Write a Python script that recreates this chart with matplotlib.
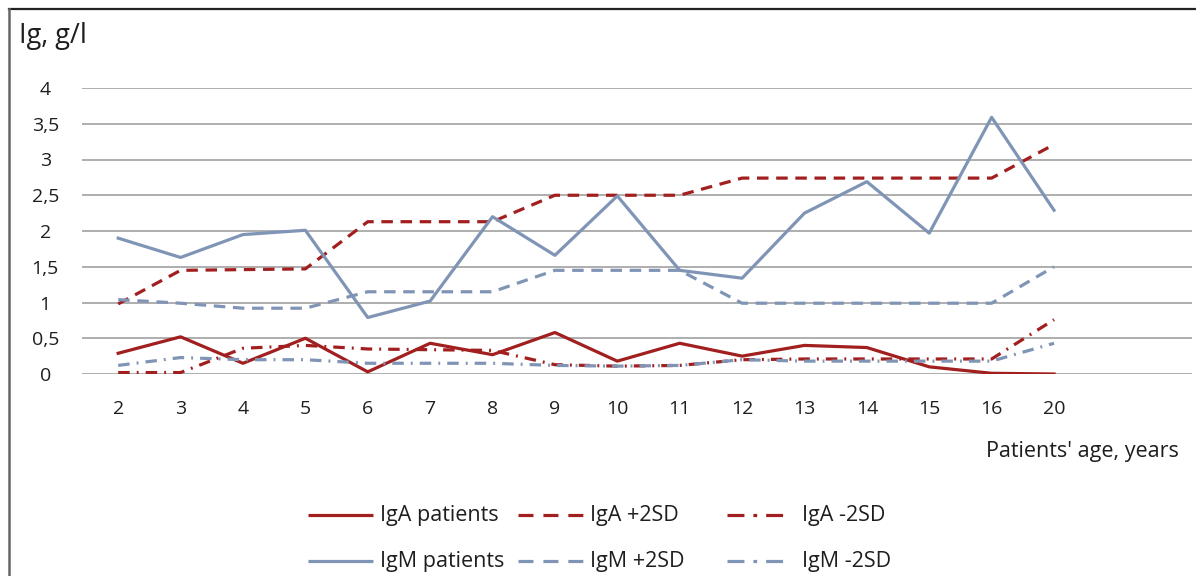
import matplotlib
matplotlib.use("Agg")
import matplotlib.pyplot as plt
from matplotlib.lines import Line2D
import numpy as np

ages = ["2", "3", "4", "5", "6", "7", "8", "9", "10", "11", "12", "13", "14", "15", "16", "20"]
iga_patients = [0.29, 0.52, 0.15, 0.50, 0.03, 0.43, 0.27, 0.58, 0.18, 0.43, 0.25, 0.40, 0.37, 0.10, 0.01, 0.00]
iga_plus2sd = [0.98, 1.45, 1.46, 1.47, 2.13, 2.13, 2.13, 2.50, 2.50, 2.50, 2.74, 2.74, 2.74, 2.74, 2.74, 3.21]
iga_minus2sd = [0.02, 0.02, 0.36, 0.40, 0.35, 0.34, 0.33, 0.13, 0.11, 0.12, 0.20, 0.21, 0.21, 0.21, 0.21, 0.76]
igm_patients = [1.90, 1.63, 1.95, 2.01, 0.79, 1.02, 2.20, 1.66, 2.49, 1.45, 1.34, 2.25, 2.69, 1.97, 3.59, 2.29]
igm_plus2sd = [1.04, 0.99, 0.92, 0.92, 1.15, 1.15, 1.15, 1.45, 1.45, 1.45, 0.99, 0.99, 0.99, 0.99, 0.99, 1.50]
igm_minus2sd = [0.12, 0.23, 0.20, 0.20, 0.15, 0.15, 0.15, 0.12, 0.11, 0.12, 0.20, 0.18, 0.18, 0.18, 0.18, 0.43]
yticks = [0, 0.5, 1, 1.5, 2, 2.5, 3, 3.5, 4]
ytick_labels = ["0", "0,5", "1", "1,5", "2", "2,5", "3", "3,5", "4"]

RED = "#A21F1F"
BLUE = "#8095B6"
GRID = "#A8A8A8"
TXT = "#1E1E1E"
FONT = ["Open Sans", "DejaVu Sans"]

W, H = 1196, 576
fig = plt.figure(figsize=(W / 100, H / 100), dpi=100)
plt.rcParams["font.family"] = FONT

left, right, bottom, top = 82, 1192, 374, 88
ax = fig.add_axes([left / W, 1 - bottom / H, (right - left) / W, (bottom - top) / H])

x = np.arange(len(ages))
lw = 2.3
dash = (3.6, 2.4)
dashdot = (3.6, 2.2, 0.6, 2.2)

series = [
    (iga_patients, RED, None, "IgA patients"),
    (iga_plus2sd, RED, dash, "IgA +2SD"),
    (iga_minus2sd, RED, dashdot, "IgA -2SD"),
    (igm_patients, BLUE, None, "IgM patients"),
    (igm_plus2sd, BLUE, dash, "IgM +2SD"),
    (igm_minus2sd, BLUE, dashdot, "IgM -2SD"),
]
for vals, col, ds, lab in series:
    if ds is None:
        ax.plot(x, vals, color=col, lw=lw, label=lab)
    else:
        ax.plot(x, vals, color=col, lw=lw, label=lab, dashes=ds)

ax.set_xlim(-0.58, (right - 118) / 62.4)
ax.set_ylim(0, 4)
ax.set_yticks(yticks)
ax.set_yticklabels(ytick_labels)
ax.set_xticks(x)
ax.set_xticklabels(ages)
ax.tick_params(axis="both", length=0, labelsize=14, colors=TXT)
ax.tick_params(axis="x", pad=19)
ax.tick_params(axis="y", pad=26.5)
for lab in ax.get_yticklabels():
    lab.set_horizontalalignment("center")
ax.grid(axis="y", color=GRID, lw=1.3)
ax.set_axisbelow(True)
for s in ax.spines.values():
    s.set_visible(False)

fig.text(19 / W, 1 - 36 / H, "Ig, g/l", fontsize=19.5, ha="left", va="center", color=TXT)
fig.text(1179 / W, 1 - 452 / H, "Patients' age, years", fontsize=15.5, ha="right", va="center", color=TXT)

# legend drawn in figure pixel coordinates (two rows, three columns)
leg_rows = [515, 561]
leg_cols = [(308, 373, 380), (518, 583, 590), (727, 783, 802)]
leg_layout = [
    ["IgA patients", "IgA +2SD", "IgA -2SD"],
    ["IgM patients", "IgM +2SD", "IgM -2SD"],
]
leg_styles = {
    "IgA patients": (RED, None), "IgA +2SD": (RED, (4.7, 3.1)), "IgA -2SD": (RED, (5.3, 2.8, 1.2, 2.8)),
    "IgM patients": (BLUE, None), "IgM +2SD": (BLUE, (4.7, 3.1)), "IgM -2SD": (BLUE, (5.3, 2.8, 1.2, 2.8)),
}
for r, row in enumerate(leg_layout):
    yy = 1 - leg_rows[r] / H
    for c, name in enumerate(row):
        x0, x1, xt = leg_cols[c]
        col, ds = leg_styles[name]
        ln = Line2D([x0 / W, x1 / W], [yy, yy], transform=fig.transFigure, color=col, lw=lw,
                    solid_capstyle="butt", dash_capstyle="butt")
        if ds is not None:
            ln.set_dashes(ds)
        fig.add_artist(ln)
        fig.text(xt / W, yy, name, fontsize=15.5, ha="left", va="center", color=TXT)

# outer frame
fig.add_artist(Line2D([9 / W, 1.0], [1 - 9 / H, 1 - 9 / H], transform=fig.transFigure, color="#222222", lw=1.6))
fig.add_artist(Line2D([9 / W, 9 / W], [0, 1 - 9 / H], transform=fig.transFigure, color="#666666", lw=1.8))

fig.savefig("out.png", dpi=100, facecolor="white")
